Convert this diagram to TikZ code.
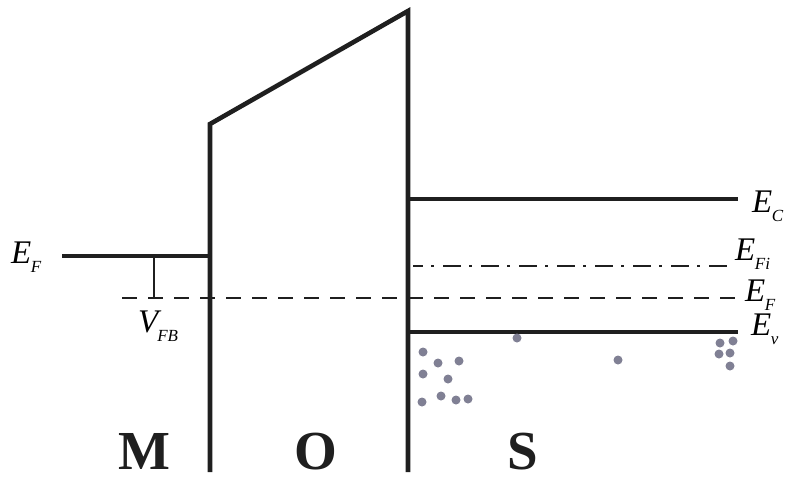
\documentclass[tikz,border=0pt]{standalone}
\usepackage{fontspec}
\setmainfont{Liberation Serif}
\newcommand{\lab}[2]{E\kern-0.5pt\raisebox{-9pt}{\fontsize{17}{17}\selectfont #2}}
\newcommand{\labv}[1]{V\kern-1pt\raisebox{-9pt}{\fontsize{17}{17}\selectfont #1}}
\begin{document}
\begin{tikzpicture}[x=1pt,y=-1pt,
  band/.style={line width=4.6pt,black!88},
  thin/.style={line width=2.6pt,black!88},
  lbl/.style={font=\fontsize{33}{33}\selectfont\itshape,inner sep=0pt,anchor=base west},
  reg/.style={font=\fontsize{55}{55}\selectfont\bfseries,inner sep=0pt,anchor=base,text=black!88,text depth=0pt},
  hole/.style={circle,fill=holec,inner sep=0pt,minimum size=9pt}]
\definecolor{holec}{RGB}{128,128,148}
\useasboundingbox (0,0) rectangle (794,477);
% metal
\coordinate (mL) at (62,256);
\coordinate (mR) at (210,256);
\draw[band] (mL) -- (mR);
% oxide
\coordinate (oBL) at (210,472);
\coordinate (oTL) at (210,124);
\coordinate (oTR) at (408,11);
\coordinate (oBR) at (408,472);
\draw[band,line join=miter] (oBL) -- (oTL) -- (oTR) -- (oBR);
% semiconductor bands
\coordinate (ecL) at (408,199); \coordinate (ecR) at (738,199);
\draw[band] (ecL) -- (ecR);
\coordinate (evL) at (408,332); \coordinate (evR) at (738,332);
\draw[band] (evL) -- (evR);
\coordinate (fiL) at (413,266); \coordinate (fiR) at (730,266);
\draw[thin,dash pattern=on 18pt off 8pt on 3pt off 9pt,dash phase=8pt] (fiL) -- (fiR);
\coordinate (efL) at (122,298); \coordinate (efR) at (735,298);
\draw[thin,dash pattern=on 15pt off 11pt] (efL) -- (efR);
% VFB marker
\coordinate (vT) at (154,256); \coordinate (vB) at (154,298);
\draw[thin] (vT) -- (vB);
% labels
\node[lbl] (lEFm) at (11,263) {\lab{E}{F}};
\node[lbl] (lVFB) at (138,332) {\labv{FB}};
\node[lbl] (lEC) at (752,212) {\lab{E}{C}};
\node[lbl] (lEFi) at (735,260) {\lab{E}{Fi}};
\node[lbl] (lEF) at (745,301) {\lab{E}{F}};
\node[lbl] (lEv) at (751,335) {\lab{E}{v}};
\node[reg] (M) at (144,469) {M};
\node[reg] (O) at (316,469) {O};
\node[reg] (S) at (523,469) {S};
% holes
\foreach \i/\p in {1/{423,352},2/{438,363},3/{459,361},4/{423,374},5/{448,379},
  6/{422,402},7/{441,396},8/{456,400},9/{468,399},10/{517,338},11/{618,360},
  12/{720,343},13/{733,341},14/{719,354},15/{730,353},16/{730,366}}
  \node[hole] (h\i) at (\p) {};
\end{tikzpicture}
\end{document}
